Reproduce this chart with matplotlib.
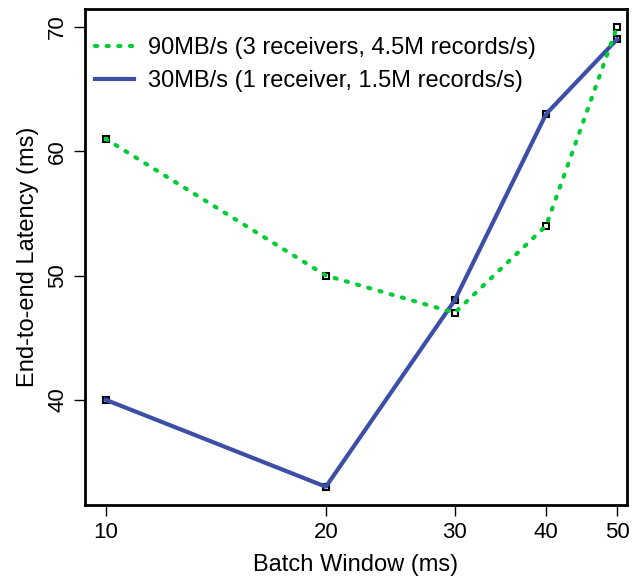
import numpy as np
import matplotlib
matplotlib.use("Agg")
import matplotlib.pyplot as plt
from matplotlib.ticker import FixedLocator, NullLocator

plt.rcParams['font.family'] = ['Liberation Sans', 'DejaVu Sans']

batch_window = [10, 20, 30, 40, 50]
lat_90 = [61, 50, 47, 54, 70]
lat_30 = [40, 33, 48, 63, 69]
label_90 = "90MB/s (3 receivers, 4.5M records/s)"
label_30 = "30MB/s (1 receiver, 1.5M records/s)"

fig = plt.figure(figsize=(6.34, 5.79), dpi=100)
ax = fig.add_axes([0.134, 0.1278, 0.855, 0.8567])

for ys in (lat_90, lat_30):
    ax.plot(batch_window, ys, linestyle='none', marker='s', ms=4,
            mfc='none', mec='black', mew=1.5, zorder=1)
ax.plot(batch_window, lat_30, color='#3C4EA6', lw=3.0, label=label_30, zorder=2)
ax.plot(batch_window, lat_90, color='#00CC33', lw=3.0, linestyle=(0, (0.5, 2.3)),
        dash_capstyle='round', label=label_90, zorder=3)

ax.set_xscale('log')
ax.set_xlim(9.37, 51.6)
ax.set_ylim(31.53, 71.45)
ax.xaxis.set_major_locator(FixedLocator(batch_window))
ax.xaxis.set_minor_locator(NullLocator())
ax.set_xticklabels([str(v) for v in batch_window])
ax.set_yticks([40, 50, 60, 70])
ax.tick_params(axis='both', direction='out', length=8, width=1, labelsize=16, pad=4)
for lab in ax.get_yticklabels():
    lab.set_rotation(90)
    lab.set_va('center')
for s in ax.spines.values():
    s.set_linewidth(2)
ax.set_xlabel("Batch Window (ms)", fontsize=17, labelpad=8)
ax.set_ylabel("End-to-end Latency (ms)", fontsize=17, labelpad=6)

handles, labels = ax.get_legend_handles_labels()
order = [labels.index(label_90), labels.index(label_30)]
leg = ax.legend([handles[i] for i in order], [labels[i] for i in order],
                loc='upper left', frameon=False, fontsize=17, handlelength=1.65,
                handletextpad=0.6, labelspacing=0.47, borderaxespad=0.0, borderpad=0.0,
                bbox_to_anchor=(0.018, 0.943))

fig.savefig("out.png", dpi=100)
